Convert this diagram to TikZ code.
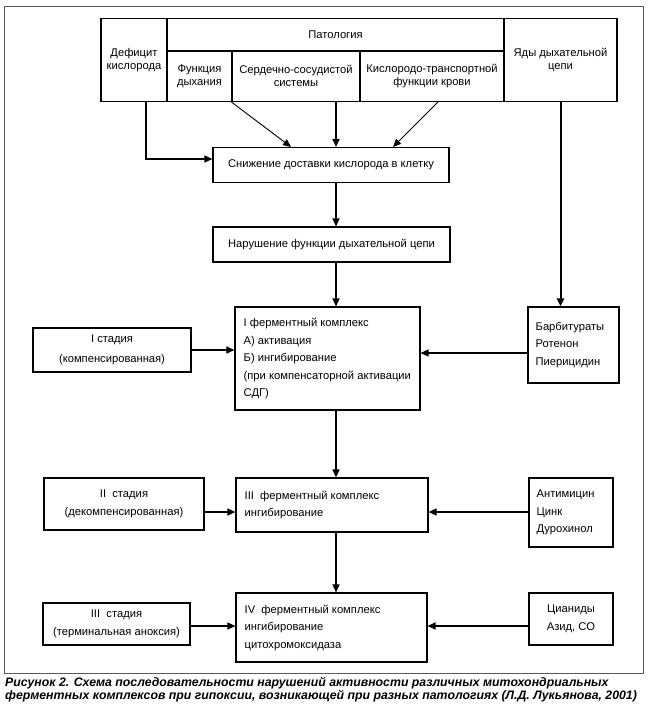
\documentclass[tikz,border=0pt]{standalone}
\usepackage{fontspec}
\setmainfont{Liberation Sans}
\usetikzlibrary{arrows.meta,calc}
\begin{document}
\begin{tikzpicture}[x=1pt,y=-1pt,
  cell/.style={draw, line width=1.1pt, inner sep=0pt, align=center, font=\fontsize{11.2}{13}\selectfont},
  box/.style={draw, line width=1.1pt, inner sep=0pt},
  ctext/.style={inner sep=0pt, align=center, font=\fontsize{11.2}{17.5}\selectfont},
  ltext/.style={inner sep=0pt, align=left, anchor=west, font=\fontsize{11.2}{17.5}\selectfont},
  conn/.style={line width=1.4pt, -{Triangle[length=8pt,width=7pt]}},
  thin conn/.style={line width=0.9pt, -{Triangle[length=8pt,width=7pt]}},
]
\useasboundingbox (0,0) rectangle (650,707);
\draw[black!65, line width=0.8pt] (4,6) rectangle (643,673);

% top table
\node[cell, minimum width=66pt, minimum height=83pt] (deficit) at (134,60) {Дефицит\\кислорода};
\node[cell, minimum width=337pt, minimum height=32.5pt] (patol) at (335.5,34.75) {Патология};
\node[cell, minimum width=65pt, minimum height=50.5pt] (resp) at (199.5,76.25) {Функция\\дыхания};
\node[cell, minimum width=128pt, minimum height=50.5pt] (cardio) at (296,76.25) {Сердечно-сосудистой\\системы};
\node[cell, minimum width=144pt, minimum height=50.5pt] (trans) at (432,76.25) {Кислородо-транспортной\\функции крови};
\node[cell, minimum width=113pt, minimum height=83pt] (poisons) at (560.5,60) {Яды дыхательной\\цепи};

% chain
\node[box, ctext, minimum width=236pt, minimum height=35pt] (snizh) at (331,165) {Снижение доставки кислорода в клетку};
\node[box, ctext, minimum width=237pt, minimum height=35pt] (narush) at (331.5,244.5) {Нарушение функции дыхательной цепи};

\node[box, minimum width=185pt, minimum height=103pt] (f1) at (327.5,358.5) {};
\node[ltext] (f1t) at ($(f1.west)+(9,0)$) {I ферментный комплекс\\А) активация\\Б) ингибирование\\(при компенсаторной активации\\СДГ)};
\node[box, minimum width=91pt, minimum height=76pt] (barb) at (573.5,345) {};
\node[ltext] (barbt) at ($(barb.west)+(8,0)$) {Барбитураты\\Ротенон\\Пиерицидин};
\node[box, ctext, font=\fontsize{11.2}{20}\selectfont, minimum width=158pt, minimum height=44pt] (st1) at (112,350) {I стадия\\(компенсированная)};

\node[box, ctext, minimum width=160pt, minimum height=52pt] (st2) at (124,504) {II~~стадия\\(декомпенсированная)};
\node[box, minimum width=192pt, minimum height=54pt] (f3) at (332,505) {};
\node[ltext] (f3t) at ($(f3.west)+(9,0)$) {III~~ферментный комплекс\\ингибирование};
\node[box, minimum width=84pt, minimum height=69pt] (anti) at (571,512.5) {};
\node[ltext] (antit) at ($(anti.west)+(8,0)$) {Антимицин\\Цинк\\Дурохинол};

\node[box, ctext, minimum width=147pt, minimum height=42pt] (st3) at (116.5,624) {III~~стадия\\(терминальная аноксия)};
\node[box, minimum width=191pt, minimum height=69pt] (f4) at (331.5,627.5) {};
\node[ltext] (f4t) at ($(f4.west)+(9,0)$) {IV~~ферментный комплекс\\ингибирование\\цитохромоксидаза};
\node[box, ctext, minimum width=84pt, minimum height=52pt] (cyan) at (571,619) {Цианиды\\Азид, CO};

\node[anchor=north west, inner sep=0pt, align=left, font=\fontsize{12.3}{11.5}\selectfont\bfseries\itshape] (caption) at (5,677) {Рисунок 2. Схема последовательности нарушений активности различных митохондриальных\\ферментных комплексов при гипоксии, возникающей при разных патологиях (Л.Д. Лукьянова, 2001)};

% connectors
\coordinate (ax) at (336,0);
\coordinate (axd) at (146,0);
\coordinate (xl) at (291,0);
\coordinate (xr) at (393,0);
\coordinate (yd) at (0,159);
\coordinate (y1b) at (0,353);
\coordinate (y2) at (0,512);
\coordinate (y3) at (0,626);

\draw[conn] (deficit.south -| axd) |- (snizh.west |- yd);
\draw[thin conn] (cardio.south west) -- (snizh.north -| xl);
\draw[conn] (cardio.south -| ax) -- (snizh.north -| ax);
\draw[thin conn] ($(trans.south)+(6,0)$) -- (snizh.north -| xr);
\draw[conn] (snizh.south -| ax) -- (narush.north -| ax);
\draw[conn] (narush.south -| ax) -- (f1.north -| ax);
\draw[conn, line width=2pt] (poisons.south) -- (poisons.south |- barb.north);
\draw[conn] (st1.east) -- (st1.east -| f1.west);
\draw[conn] (barb.west |- y1b) -- (f1.east |- y1b);
\draw[conn] (f1.south -| ax) -- (f3.north -| ax);
\draw[conn] (st2.east |- y2) -- (f3.west |- y2);
\draw[conn] (anti.west |- y2) -- (f3.east |- y2);
\draw[conn] (f3.south -| ax) -- (f4.north -| ax);
\draw[conn] (st3.east |- y3) -- (f4.west |- y3);
\draw[conn] (cyan.west |- y3) -- (f4.east |- y3);
\end{tikzpicture}
\end{document}
